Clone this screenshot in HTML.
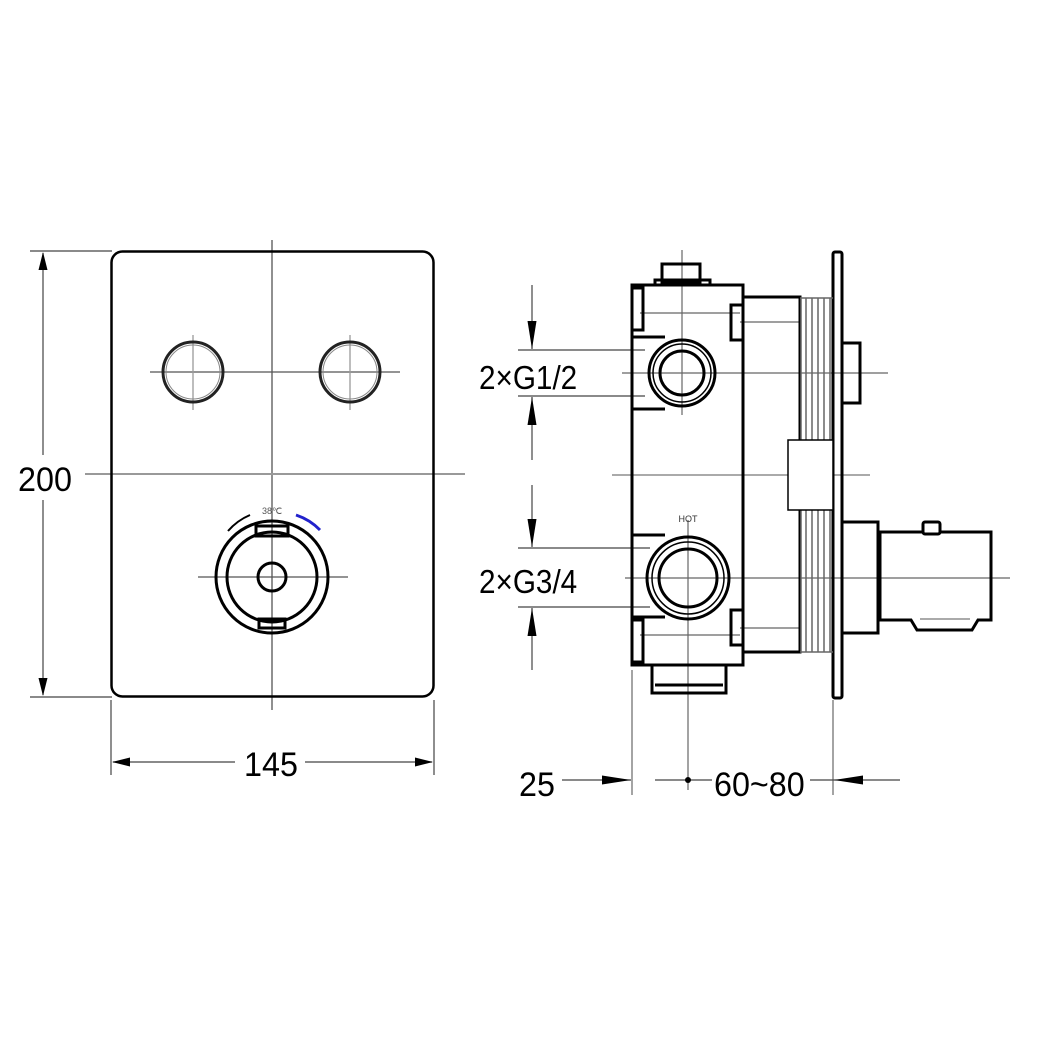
<!DOCTYPE html>
<html><head><meta charset="utf-8"><style>html,body{margin:0;padding:0;background:#fff}svg{display:block}</style></head>
<body>
<svg width="1040" height="1040" viewBox="0 0 1040 1040" xmlns="http://www.w3.org/2000/svg" font-family="Liberation Sans, sans-serif">
<rect width="1040" height="1040" fill="#fff"/>
<g stroke="#555" stroke-width="1.3" fill="none">
<line x1="272" y1="240" x2="272" y2="710"/>
<line x1="85" y1="474" x2="465" y2="474" stroke="#999" stroke-width="2"/>
<line x1="150" y1="372" x2="400" y2="372"/>
<line x1="193" y1="335" x2="193" y2="410" stroke="#999"/>
<line x1="350" y1="335" x2="350" y2="410" stroke="#999"/>
<line x1="198" y1="577" x2="348" y2="577"/>
</g>
<rect x="111.5" y="251.5" width="322" height="445" rx="11" fill="none" stroke="#000" stroke-width="2.5"/>
<g fill="none" stroke="#222" stroke-width="3">
<circle cx="193" cy="372" r="30"/><circle cx="350" cy="372" r="30"/>
</g>
<g fill="none" stroke="#888" stroke-width="1"><circle cx="193" cy="372" r="27"/><circle cx="350" cy="372" r="27"/></g>
<g fill="none" stroke="#000" stroke-width="3">
<circle cx="272" cy="577" r="56"/>
<circle cx="272" cy="577" r="45"/>
<circle cx="272" cy="577" r="14"/>
<rect x="256" y="526" width="32" height="10"/>
<rect x="259" y="619" width="26" height="9"/>
</g>
<path d="M228,531 A60,60 0 0 1 250,515" fill="none" stroke="#000" stroke-width="2"/>
<path d="M296,515 A60,60 0 0 1 320,530" fill="none" stroke="#22c" stroke-width="3"/>
<text x="272" y="514" font-size="9" text-anchor="middle" fill="#555">38℃</text>
<g stroke="#444" stroke-width="1.2">
<line x1="30" y1="251" x2="112" y2="251"/><line x1="30" y1="697" x2="112" y2="697"/>
<line x1="43" y1="253" x2="43" y2="455"/>
<line x1="43" y1="500" x2="43" y2="695"/>
<line x1="111" y1="700" x2="111" y2="775"/><line x1="434" y1="700" x2="434" y2="775"/>
<line x1="113" y1="762" x2="235" y2="762"/>
<line x1="305" y1="762" x2="432" y2="762"/>
</g>
<g fill="#000">
<polygon points="43,252 38.5,270 47.5,270"/>
<polygon points="43,696 38.5,678 47.5,678"/>
<polygon points="112,762 130,757.5 130,766.5"/>
<polygon points="433,762 415,757.5 415,766.5"/>
</g>
<text transform="translate(45,491) scale(0.95,1)" font-size="34" text-anchor="middle">200</text>
<text transform="translate(271,776) scale(0.95,1)" font-size="34" text-anchor="middle">145</text>
<g stroke="#666" stroke-width="1.2" fill="none">
<line x1="622" y1="373" x2="888" y2="373"/>
<line x1="612" y1="475" x2="870" y2="475" stroke="#aaa" stroke-width="2"/>
<line x1="625" y1="578" x2="1010" y2="578"/>
<line x1="682" y1="250" x2="682" y2="415"/>
<line x1="688" y1="520" x2="688" y2="790"/>
<line x1="632" y1="670" x2="632" y2="795"/>
<line x1="833" y1="700" x2="833" y2="795"/>
<line x1="640" y1="313" x2="740" y2="313"/>
<line x1="740" y1="322" x2="800" y2="322"/>
<line x1="740" y1="628" x2="800" y2="628"/>
<line x1="640" y1="635" x2="740" y2="635"/>
</g>
<g stroke="#444" stroke-width="1.2">
<line x1="518" y1="350" x2="645" y2="350"/><line x1="518" y1="396" x2="645" y2="396"/>
<line x1="518" y1="548" x2="650" y2="548"/><line x1="518" y1="607" x2="650" y2="607"/>
<line x1="532" y1="285" x2="532" y2="349"/>
<line x1="532" y1="460" x2="532" y2="397"/>
<line x1="532" y1="485" x2="532" y2="547"/>
<line x1="532" y1="670" x2="532" y2="608"/>
<line x1="562" y1="780" x2="631" y2="780"/>
<line x1="655" y1="780" x2="712" y2="780"/>
<line x1="810" y1="780" x2="900" y2="780"/>
</g>
<g fill="#000">
<polygon points="532,349 527.5,321 536.5,321"/>
<polygon points="532,397 527.5,425 536.5,425"/>
<polygon points="532,547 527.5,519 536.5,519"/>
<polygon points="532,608 527.5,636 536.5,636"/>
<polygon points="631,780 602,775.5 602,784.5"/>
<polygon points="834,780 863,775.5 863,784.5"/>
</g>
<circle cx="688" cy="780" r="3"/>
<text transform="translate(479,389) scale(0.9,1)" font-size="33">2×G1/2</text>
<text transform="translate(479,593) scale(0.9,1)" font-size="33">2×G3/4</text>
<text transform="translate(519,796) scale(0.95,1)" font-size="34">25</text>
<text transform="translate(714,796) scale(0.95,1)" font-size="34">60~80</text>
<g fill="none" stroke="#000" stroke-width="3">
<rect x="632" y="285" width="111" height="380"/>
<rect x="662" y="264" width="38" height="18"/>
<rect x="655" y="280" width="55" height="5"/>
<rect x="632" y="288" width="11" height="42"/>
<rect x="731" y="305" width="12" height="35"/>
<rect x="632" y="620" width="11" height="42"/>
<rect x="731" y="610" width="12" height="35"/>
<path d="M632,337 H665 M632,409 H665"/>
<path d="M632,535 H665 M632,617 H665"/>
<circle cx="682" cy="373" r="33"/><circle cx="682" cy="373" r="22"/>
<circle cx="688" cy="578" r="41"/><circle cx="688" cy="578" r="29"/>
<path d="M652,665 V693 H726 V665"/>
<path d="M655,685 H723"/>
<path d="M743,297 H800 V652 H743"/>
<rect x="833" y="252" width="9" height="446" rx="2"/>
<rect x="842" y="343" width="18" height="60"/>
<rect x="842" y="522" width="36" height="111"/>
<path d="M880,532 H991 V620 H978 L972,630 H917 L911,620 H880 Z"/>
<rect x="923" y="522" width="17" height="12" rx="2" fill="#fff"/>
</g>
<circle cx="682" cy="373" r="29" fill="none" stroke="#000" stroke-width="1.5"/>
<circle cx="688" cy="578" r="36" fill="none" stroke="#000" stroke-width="1.5"/>
<line x1="920" y1="619" x2="970" y2="619" stroke="#aaa" stroke-width="2"/>
<g stroke="#666" stroke-width="1.5">
<line x1="801" y1="298" x2="801" y2="440"/><line x1="806" y1="298" x2="806" y2="440"/><line x1="812" y1="298" x2="812" y2="440"/><line x1="818" y1="298" x2="818" y2="440"/><line x1="824" y1="298" x2="824" y2="440"/><line x1="830" y1="298" x2="830" y2="440"/>
<line x1="801" y1="510" x2="801" y2="652"/><line x1="806" y1="510" x2="806" y2="652"/><line x1="812" y1="510" x2="812" y2="652"/><line x1="818" y1="510" x2="818" y2="652"/><line x1="824" y1="510" x2="824" y2="652"/><line x1="830" y1="510" x2="830" y2="652"/>
<line x1="800" y1="298" x2="833" y2="298"/><line x1="800" y1="652" x2="833" y2="652"/>
</g>
<rect x="788" y="440" width="45" height="70" fill="#fff" stroke="#000" stroke-width="1.5"/>
<text x="688" y="522" font-size="9" text-anchor="middle" fill="#333">HOT</text>
</svg>
</body></html>
